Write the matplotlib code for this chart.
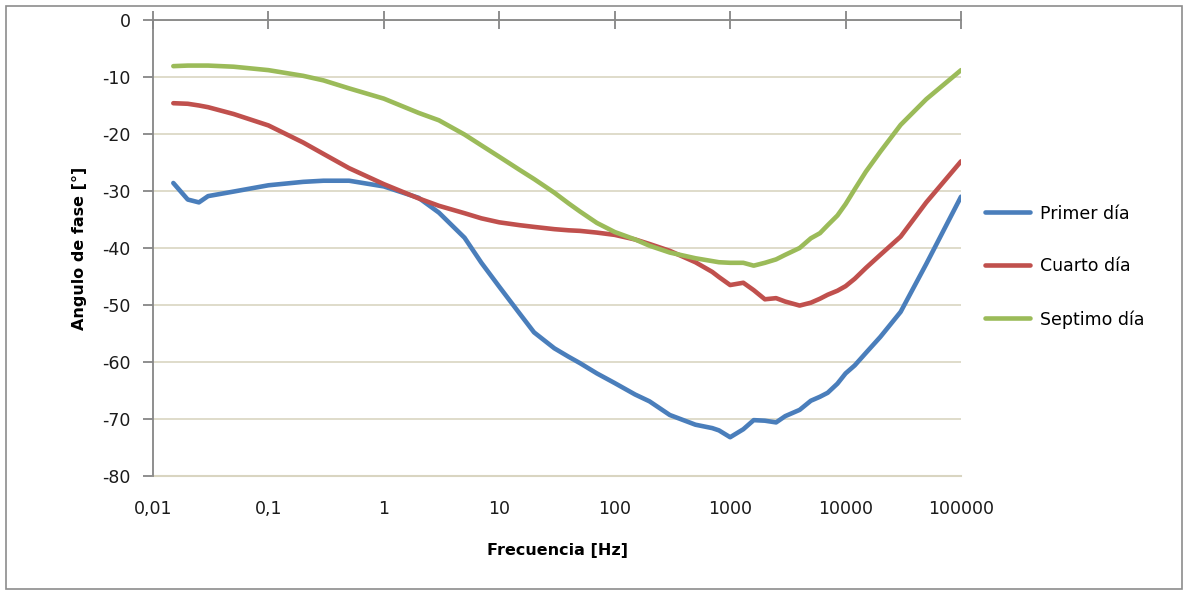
import matplotlib.pyplot as plt
from matplotlib.patches import Rectangle
from matplotlib.ticker import FixedLocator, NullLocator

# frequencies [Hz] (log axis)
freq = [0.015, 0.02, 0.025, 0.03, 0.05, 0.1, 0.2, 0.3, 0.5, 1, 2, 3, 5, 7, 10, 15, 20,
        30, 40, 50, 70, 100, 150, 200, 300, 500, 700, 800, 1000, 1300, 1600, 2000,
        2500, 3000, 4000, 5000, 6000, 7000, 8500, 10000, 12000, 15000, 20000, 30000,
        50000, 100000]

primer = [-28.6, -31.5, -32.0, -30.9, -30.1, -29.0, -28.4, -28.2, -28.2, -29.2, -31.2,
          -33.8, -38.2, -42.6, -46.8, -51.5, -54.8, -57.6, -59.1, -60.2, -62.0, -63.7,
          -65.7, -66.9, -69.3, -71.0, -71.6, -72.0, -73.2, -71.8, -70.2, -70.3, -70.6,
          -69.5, -68.4, -66.8, -66.1, -65.4, -63.8, -62.0, -60.6, -58.4, -55.6, -51.2,
          -42.8, -31.0]

cuarto = [-14.6, -14.7, -15.0, -15.3, -16.5, -18.5, -21.5, -23.5, -26.0, -28.8, -31.3,
          -32.6, -33.9, -34.8, -35.5, -36.0, -36.3, -36.7, -36.9, -37.0, -37.3, -37.7,
          -38.5, -39.3, -40.5, -42.5, -44.2, -45.1, -46.5, -46.1, -47.4, -49.0, -48.8,
          -49.4, -50.1, -49.6, -48.9, -48.2, -47.5, -46.7, -45.4, -43.5, -41.2, -38.0,
          -32.0, -24.8]

septimo = [-8.1, -8.0, -8.0, -8.0, -8.2, -8.8, -9.8, -10.6, -12.0, -13.8, -16.3,
           -17.6, -20.1, -22.0, -24.0, -26.3, -27.9, -30.3, -32.2, -33.6, -35.6, -37.2,
           -38.5, -39.6, -40.8, -41.8, -42.3, -42.5, -42.6, -42.6, -43.1, -42.6, -42.0,
           -41.2, -40.0, -38.3, -37.4, -36.0, -34.3, -32.3, -29.7, -26.6, -23.1, -18.4,
           -13.9, -8.8]

series_names = ['Primer día', 'Cuarto día', 'Septimo día']
colors = ['#4A7EBB', '#C0504D', '#9BBB59']

x_ticks = [0.01, 0.1, 1, 10, 100, 1000, 10000, 100000]
x_labels = ['0,01', '0,1', '1', '10', '100', '1000', '10000', '100000']
y_ticks = [0, -10, -20, -30, -40, -50, -60, -70, -80]

plt.rcParams['font.family'] = ['DejaVu Sans']
plt.rcParams['axes.unicode_minus'] = False

fig = plt.figure(figsize=(11.86, 5.91), dpi=100)
ax = fig.add_axes([0.129, 0.1946, 0.6813, 0.7716])

for vals, name, c in zip([primer, cuarto, septimo], series_names, colors):
    ax.plot(freq, vals, color=c, lw=3.3, label=name, solid_capstyle='round',
            solid_joinstyle='round')

ax.set_xscale('log')
ax.set_xlim(0.01, 100000)
ax.set_ylim(-80, 0)
ax.xaxis.set_major_locator(FixedLocator(x_ticks))
ax.xaxis.set_minor_locator(NullLocator())
ax.set_xticklabels(x_labels)
ax.set_yticks(y_ticks)

axis_gray = '#868686'
grid_color = '#D9D5C1'
for side in ['bottom', 'right']:
    ax.spines[side].set_visible(False)
for side in ['top', 'left']:
    ax.spines[side].set_color(axis_gray)
    ax.spines[side].set_linewidth(1.3)

ax.tick_params(axis='x', which='major', top=True, bottom=False, labeltop=False,
               labelbottom=True, direction='inout', length=12.5, width=1.3,
               color=axis_gray, pad=11, labelsize=12.5, labelcolor='#1a1a1a')
ax.tick_params(axis='y', direction='out', length=7, width=1.3, color=axis_gray,
               pad=9, labelsize=12.5, labelcolor='#1a1a1a')

ax.yaxis.grid(True, color=grid_color, lw=1.2)
ax.set_axisbelow(True)
# bottom gridline sits on the axes edge, draw it unclipped
ax.axhline(-80, color=grid_color, lw=1.5, clip_on=False, zorder=0.6)

ax.set_xlabel('Frecuencia [Hz]', fontsize=11.5, fontweight='bold', labelpad=18)
ax.set_ylabel('Angulo de fase [°]', fontsize=11.5, fontweight='bold', labelpad=11)

fig.legend(loc='center left', bbox_to_anchor=(0.8305, 0.549), frameon=False,
           fontsize=12.5, handlelength=2.6, handletextpad=0.55, labelspacing=2.0,
           borderpad=0, borderaxespad=0)

fig.patches.append(Rectangle((6 / 1186, 2 / 591), 1176 / 1186, 583 / 591,
                             transform=fig.transFigure, fill=False,
                             edgecolor='#8c8c8c', lw=1.2))

fig.savefig('out.png', dpi=100)
